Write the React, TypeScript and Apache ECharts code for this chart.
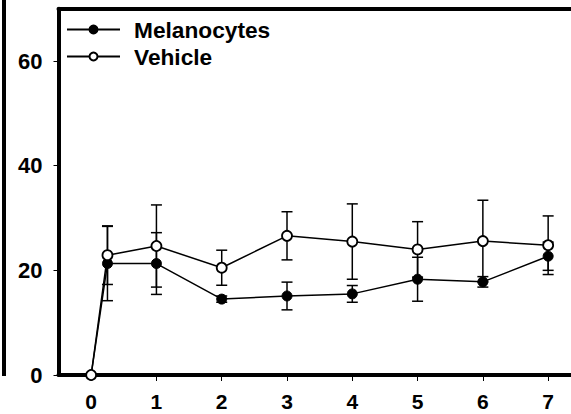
import React, { useEffect, useRef } from "react";
import * as echarts from "echarts";

// Sampling days (first post-treatment sample taken a quarter day in)
const days = [0, 0.25, 1, 2, 3, 4, 5, 6, 7];
const melanocytesMean = [0, 21.3, 21.3, 14.5, 15.1, 15.5, 18.3, 17.8, 22.7];
const melanocytesSE = [0, 7.1, 5.9, 0.6, 2.65, 1.6, 4.2, 1.0, 2.7];
const vehicleMean = [0, 22.9, 24.65, 20.5, 26.6, 25.5, 24.0, 25.6, 24.8];
const vehicleSE = [0, 5.6, 7.85, 3.35, 4.6, 7.2, 5.3, 7.8, 5.6];
const xTicks = [0, 1, 2, 3, 4, 5, 6, 7];
const yTicks = [0, 20, 40, 60];

const FONT = "'Liberation Sans', Arial, Helvetica, sans-serif";

const points = (means: number[]) => days.map((d, i) => [d, means[i]]);
const ranges = (means: number[], se: number[]) =>
  days.map((d, i) => [d, means[i] - se[i], means[i] + se[i]]);

// Vertical error bar with caps, drawn through the axis scales
const renderErrorBar = (params: any, api: any) => {
  const x = api.value(0);
  const lo = api.value(1);
  const hi = api.value(2);
  if (hi - lo <= 0) return null;
  const pLo = api.coord([x, lo]);
  const pHi = api.coord([x, hi]);
  const hw = 5.5;
  const style = { stroke: "#000", lineWidth: 1.5, fill: "none" };
  return {
    type: "group",
    children: [
      { type: "line", shape: { x1: pLo[0], y1: pLo[1], x2: pHi[0], y2: pHi[1] }, style },
      { type: "line", shape: { x1: pLo[0] - hw, y1: pLo[1], x2: pLo[0] + hw, y2: pLo[1] }, style },
      { type: "line", shape: { x1: pHi[0] - hw, y1: pHi[1], x2: pHi[0] + hw, y2: pHi[1] }, style },
    ],
  };
};

export default function App() {
  const ref = useRef<HTMLDivElement>(null);

  useEffect(() => {
    document.body.style.margin = "0";
    if (!ref.current) return;
    const chart = echarts.init(ref.current, undefined, { renderer: "svg" });

    const labelStyle = { color: "#000", fontSize: 22, fontWeight: "bold" as const, fontFamily: FONT };

    chart.setOption({
      animation: false,
      backgroundColor: "#fff",
      grid: { left: 58.5, right: 0, top: 8.7, bottom: 39, containLabel: false, outerBoundsMode: "none" },
      legend: {
        orient: "vertical",
        left: 61,
        top: 13,
        itemWidth: 53,
        itemHeight: 10,
        itemGap: 4,
        data: ["Melanocytes", "Vehicle"],
        textStyle: { ...labelStyle, fontSize: 22.7, lineHeight: 21, padding: [0, 0, 0, 9] },
      },
      xAxis: [
        {
          type: "value",
          min: -0.5,
          max: 7.35,
          axisLine: { show: true, onZero: false, lineStyle: { color: "#000", width: 4 } },
          axisTick: { show: true, length: 6, customValues: xTicks, lineStyle: { color: "#000", width: 1 } },
          axisLabel: { ...labelStyle, fontSize: 21, lineHeight: 17, margin: 18, customValues: xTicks },
          splitLine: { show: false },
        },
        {
          type: "value",
          position: "top",
          min: -0.5,
          max: 7.35,
          axisLine: { show: true, onZero: false, lineStyle: { color: "#000", width: 4 } },
          axisTick: { show: false },
          axisLabel: { show: false },
          splitLine: { show: false },
        },
      ],
      yAxis: {
        type: "value",
        min: 0,
        max: 70,
        axisLine: { show: true, onZero: false, lineStyle: { color: "#000", width: 4 } },
        axisTick: { show: true, length: 5, customValues: yTicks, lineStyle: { color: "#000", width: 1 } },
        axisLabel: { ...labelStyle, margin: 16, customValues: yTicks },
        splitLine: { show: false },
      },
      graphic: [
        {
          type: "line",
          shape: { x1: 4, y1: 0, x2: 4, y2: 376 },
          style: { stroke: "#000", lineWidth: 4 },
        },
      ],
      series: [
        {
          name: "Melanocytes SE",
          type: "custom",
          renderItem: renderErrorBar,
          encode: { x: 0, y: [1, 2] },
          data: ranges(melanocytesMean, melanocytesSE),
          z: 2,
        },
        {
          name: "Vehicle SE",
          type: "custom",
          renderItem: renderErrorBar,
          encode: { x: 0, y: [1, 2] },
          data: ranges(vehicleMean, vehicleSE),
          z: 2,
        },
        {
          name: "Melanocytes",
          type: "line",
          data: points(melanocytesMean),
          symbol: "circle",
          symbolSize: 10,
          lineStyle: { color: "#000", width: 1.5 },
          itemStyle: { color: "#000", borderColor: "#000", borderWidth: 1 },
          z: 3,
        },
        {
          name: "Vehicle",
          type: "line",
          data: points(vehicleMean),
          symbol: "circle",
          symbolSize: 10,
          lineStyle: { color: "#000", width: 1.5 },
          itemStyle: { color: "#fff", borderColor: "#000", borderWidth: 1.8 },
          z: 4,
        },
      ],
    });

    return () => chart.dispose();
  }, []);

  return <div ref={ref} style={{ width: 571, height: 414 }} />;
}
